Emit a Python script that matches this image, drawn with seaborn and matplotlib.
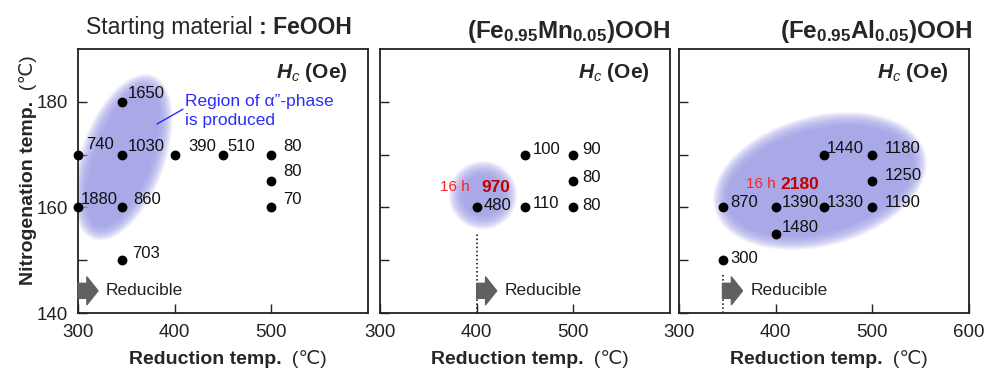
import numpy as np
import pandas as pd
import seaborn as sns
import matplotlib
matplotlib.use('Agg')
import matplotlib.pyplot as plt

sns.set_style('ticks')
plt.rcParams['font.family'] = ['Liberation Sans', 'DejaVu Sans']
plt.rcParams['mathtext.fontset'] = 'custom'
plt.rcParams['mathtext.rm'] = 'Liberation Sans'
plt.rcParams['mathtext.it'] = 'Liberation Sans:italic'
plt.rcParams['mathtext.bf'] = 'Liberation Sans:bold'
plt.rcParams['mathtext.bfit'] = 'Liberation Sans:italic:bold'

# data: reduction temp, nitrogenation temp, coercivity label
feooh_red = [300, 300, 345, 345, 345, 345, 400, 450, 500, 500, 500]
feooh_nit = [170, 160, 180, 170, 160, 150, 170, 170, 170, 165, 160]
feooh_hc = ['740', '1880', '1650', '1030', '860', '703', '390', '510', '80', '80', '70']

mn_red = [400, 450, 500, 500, 450, 500]
mn_nit = [160, 170, 170, 165, 160, 160]
mn_hc = ['480', '100', '90', '80', '110', '80']

al_red = [345, 345, 400, 400, 450, 450, 500, 500, 500]
al_nit = [160, 150, 160, 155, 160, 170, 170, 165, 160]
al_hc = ['870', '300', '1390', '1480', '1330', '1440', '1180', '1250', '1190']

# label offsets in pixels (dx, dy)
feooh_off = [(8, 10), (3, 8), (6, 8), (6, 8), (12, 8), (11, 7), (14, 8), (4, 8), (12, 8), (12, 10), (12, 8)]
mn_off = [(7, 2), (8, 5), (9, 5), (9, 4), (8, 4), (9, 2)]
al_off = [(8, 5), (8, 2), (6, 5), (6, 6), (3, 5), (3, 6), (12, 6), (12, 5), (12, 5)]

reducible_from = [300, 400, 345]
long_run = [None, (400, 160, '970'), (345, 160, '2180')]

fig = plt.figure(figsize=(9.86, 3.72), dpi=100)
W, H = 986, 372
lefts = [78, 380, 679]
axes = []
for l in lefts:
    ax = fig.add_axes([l / W, 1 - 313 / H, 290 / W, 264 / H])
    axes.append(ax)

blob_color = '#9c9ce7'


def soft_blob(ax, cx, cy, a, b, ang):
    # ellipse drawn in pixel space, converted back to data coords
    c = ax.transData.transform((cx, cy))
    t = np.linspace(0, 2 * np.pi, 200)
    th = np.deg2rad(ang)
    for d in np.linspace(7, -7, 12):
        x = (a + d) * np.cos(t)
        y = (b + d) * np.sin(t)
        px = c[0] + x * np.cos(th) - y * np.sin(th)
        py = c[1] + x * np.sin(th) + y * np.cos(th)
        pts = ax.transData.inverted().transform(np.column_stack([px, py]))
        ax.fill(pts[:, 0], pts[:, 1], color=blob_color, alpha=0.14, lw=0, zorder=1)


panels = [
    (feooh_red, feooh_nit, feooh_hc, feooh_off),
    (mn_red, mn_nit, mn_hc, mn_off),
    (al_red, al_nit, al_hc, al_off),
]

for i, (ax, (rx, ny, hc, off)) in enumerate(zip(axes, panels)):
    ax.set_xlim(300, 600)
    ax.set_ylim(140, 190)
    df = pd.DataFrame({'red': rx, 'nit': ny, 'hc': hc})
    sns.scatterplot(data=df, x='red', y='nit', ax=ax, color='black', s=50,
                    linewidth=0, clip_on=False, zorder=4)
    for (xv, yv, lab), (dx, dy) in zip(zip(rx, ny, hc), off):
        ax.annotate(lab, (xv, yv), xytext=(dx, dy), textcoords='offset pixels',
                    ha='left', va='center', fontsize=12, color='#111111', zorder=5)

    if i < 2:
        ax.set_xticks([300, 400, 500])
    else:
        ax.set_xticks([300, 400, 500, 600])
    ax.set_yticks([140, 150, 160, 170, 180])
    if i == 0:
        ax.set_yticklabels(['140', '', '160', '', '180'])
    else:
        ax.set_yticklabels([])
    ax.tick_params(direction='in', length=6.5, width=1, labelsize=13.5, pad=8,
                   colors='#222222')
    ax.tick_params(axis='y', pad=7)
    for sp in ax.spines.values():
        sp.set_visible(True)
        sp.set_linewidth(1.3)
        sp.set_color('#222222')
    ax.set_xlabel('')
    ax.set_ylabel('')

    # x label: bold part + regular unit
    t1 = ax.text(0.175, -0.178, 'Reduction temp.', transform=ax.transAxes,
                 fontsize=14, fontweight='bold', ha='left', va='center')
    ax.annotate('  (℃)', xy=(1, 0), xycoords=t1, ha='left', va='bottom', fontsize=14)

    # Hc label
    ax.text(0.684, 0.89, r'$\mathbfit{H}_{\mathit{c}}$ (Oe)', transform=ax.transAxes,
            fontsize=15, fontweight='bold', ha='left', va='baseline')

    # reducible arrow
    r0 = reducible_from[i]
    ax.annotate('', xy=(r0 + 20.7, 144.2), xytext=(r0, 144.2),
                arrowprops=dict(arrowstyle='simple,head_length=0.8,head_width=2.0,tail_width=1.08',
                                color='#606060', shrinkA=0, shrinkB=0, mutation_scale=10),
                zorder=3)
    ax.annotate('Reducible', (r0, 144.2), xytext=(28, 0), textcoords='offset pixels',
                ha='left', va='center', fontsize=12.5, color='#222222')

    if long_run[i] is not None:
        lx, ly, lv = long_run[i]
        ax.plot([lx, lx], [140, 155 if i == 1 else 147.5], ls=':', color='black', lw=1.1, zorder=2)

# blobs (after limits are fixed)
soft_blob(axes[0], 346.5, 169.5, 80, 35, 70)
soft_blob(axes[1], 406.5, 162.3, 27, 27, 0)
soft_blob(axes[2], 445.8, 165.0, 102, 58, 15)

# long reduction time labels
axes[1].annotate('16 h', (400, 160), xytext=(-37, 20), textcoords='offset pixels',
                 ha='left', va='center', fontsize=11, color='#ff2222')
axes[1].annotate('970', (400, 160), xytext=(5, 20), textcoords='offset pixels',
                 ha='left', va='center', fontsize=12.5, fontweight='bold', color='#c00000')
axes[2].annotate('16 h', (345, 160), xytext=(23, 23), textcoords='offset pixels',
                 ha='left', va='center', fontsize=11, color='#ff2222')
axes[2].annotate('2180', (345, 160), xytext=(58, 23), textcoords='offset pixels',
                 ha='left', va='center', fontsize=12.5, fontweight='bold', color='#c00000')

# region note in first panel
axes[0].plot([381.7, 408.6], [175.8, 178.6], color='#2b2bff', lw=1, zorder=3)
axes[0].text(410.6, 178.2, 'Region of α”-phase\nis produced', color='#2b2bff',
             fontsize=12.5, ha='left', va='center', linespacing=1.35)

# y label
ty = axes[0].text(-0.172, 0.106, 'Nitrogenation temp.', transform=axes[0].transAxes,
                  fontsize=14, fontweight='bold', rotation=90, ha='center', va='bottom')
axes[0].annotate('  (℃)', xy=(0.5, 1), xycoords=ty, rotation=90, ha='center', va='bottom',
                 fontsize=14)

# titles
tt = axes[0].text(0.027, 1.08, 'Starting material ', transform=axes[0].transAxes,
                  fontsize=16.5, ha='left', va='center')
axes[0].annotate(': FeOOH', xy=(1, 0), xycoords=tt, ha='left', va='bottom',
                 fontsize=16.5, fontweight='bold')
axes[1].text(1.0, 1.068, r'$\mathbf{(Fe_{0.95}Mn_{0.05})OOH}$', transform=axes[1].transAxes,
             fontsize=17.5, ha='right', va='center')
axes[2].text(1.01, 1.068, r'$\mathbf{(Fe_{0.95}Al_{0.05})OOH}$', transform=axes[2].transAxes,
             fontsize=17.5, ha='right', va='center')

fig.savefig('out.png', dpi=100)
